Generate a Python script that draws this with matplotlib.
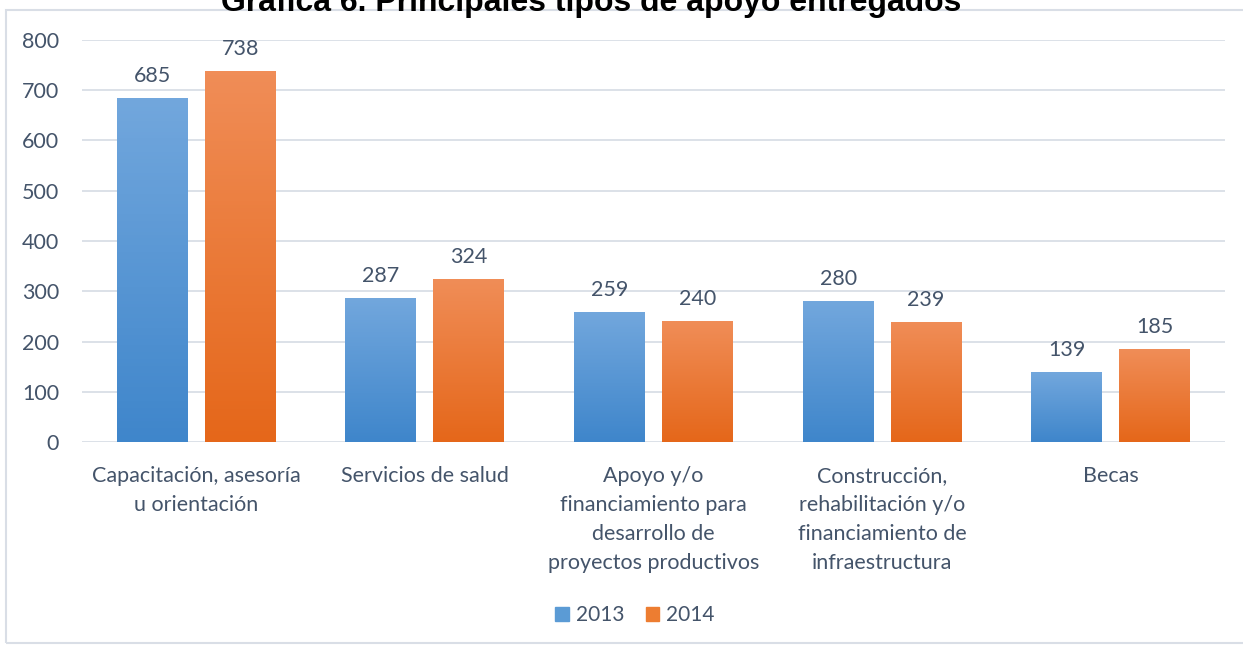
import matplotlib.pyplot as plt
import numpy as np
from matplotlib.colors import LinearSegmentedColormap
from matplotlib.patches import Rectangle

categories = ['Capacitación, asesoría\nu orientación', 'Servicios de salud',
              'Apoyo y/o\nfinanciamiento para\ndesarrollo de\nproyectos productivos',
              'Construcción,\nrehabilitación y/o\nfinanciamiento de\ninfraestructura',
              'Becas']
series = ['2013', '2014']
v2013 = [685, 287, 259, 280, 139]
v2014 = [738, 324, 240, 239, 185]
yticks = [0, 100, 200, 300, 400, 500, 600, 700, 800]

text_color = '#44546A'
grad = {
    '2013': ('#3F86CB', '#72A7DD'),
    '2014': ('#E5671A', '#F08D57'),
}
solid = {'2013': '#5B9BD5', '2014': '#ED7D31'}

plt.rcParams['font.family'] = ['Lato', 'DejaVu Sans']

fig = plt.figure(figsize=(12.43, 6.45), dpi=100)
ax = fig.add_axes([0.066, 0.3147, 0.9195, 0.6233])

x = np.arange(len(categories))
width = 0.31
offset = 0.1925

for vals, name, sign in [(v2013, '2013', -1), (v2014, '2014', 1)]:
    bars = ax.bar(x + sign * offset, vals, width, color=solid[name], label=name, zorder=2)
    cmap = LinearSegmentedColormap.from_list(name, grad[name])
    for b in bars:
        x0, w, h = b.get_x(), b.get_width(), b.get_height()
        img = ax.imshow(np.linspace(0, 1, 100).reshape(-1, 1), cmap=cmap, origin='lower',
                        extent=[x0, x0 + w, 0, h], aspect='auto', zorder=3)
        img.set_clip_path(b)
        ax.text(x0 + w / 2, h + 24, f'{h:.0f}', ha='center', va='bottom',
                fontsize=15.5, color=text_color)

ax.set_xlim(-0.5, len(categories) - 0.5)
ax.set_ylim(0, 800)
ax.set_yticks(yticks)
ax.set_xticks(x)
ax.set_xticklabels(categories, fontsize=15.5, color=text_color, linespacing=1.58, va='top')
ax.tick_params(axis='y', labelsize=15.5, labelcolor=text_color, length=0, pad=16.5)
ax.tick_params(axis='x', length=0, pad=17)
ax.grid(axis='y', color='#D9DEE6', linewidth=1.3, zorder=0)
for s in ax.spines.values():
    s.set_visible(False)

leg = ax.legend(handles=[Rectangle((0, 0), 1, 1, color=solid[s]) for s in series],
                labels=series, loc='center', bbox_to_anchor=(0.484, -0.43), ncol=2,
                frameon=False, fontsize=15, handlelength=0.65, handleheight=0.65,
                columnspacing=1.0, handletextpad=0.35)
for t in leg.get_texts():
    t.set_color(text_color)

# outer chart border
fig.patches.append(Rectangle((6 / 1243, 2 / 645), 1.1, 1 - 12 / 645, transform=fig.transFigure,
                             fill=False, edgecolor='#D9DEE6', linewidth=1.5))

fig.text(0.476, 1 - 11 / 645, 'Gráfica 6. Principales tipos de apoyo entregados',
         ha='center', va='baseline', fontsize=23, fontweight='bold',
         family='Liberation Sans', color='black')

fig.savefig('out.png', dpi=100)
